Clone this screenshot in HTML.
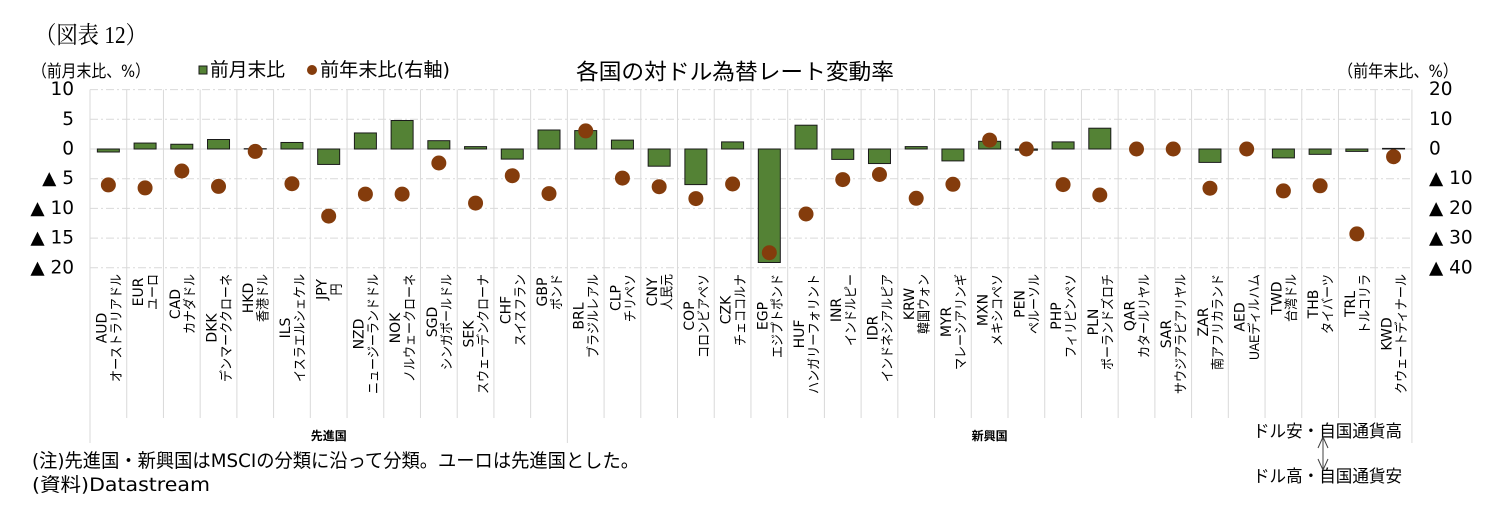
<!DOCTYPE html>
<html lang="ja">
<head>
<meta charset="utf-8">
<style>
  html,body{margin:0;padding:0;background:#fff;}
  svg{display:block;}
  text{fill:#000;}
  .tk{font-family:"DejaVu Sans","Liberation Sans",sans-serif;font-size:18.5px;dominant-baseline:central;}
  .c{font-family:"DejaVu Sans","Liberation Sans",sans-serif;font-size:14px;text-anchor:middle;dominant-baseline:central;}
  .j{font-family:"Liberation Sans","Noto Sans CJK JP",sans-serif;font-size:13.5px;text-anchor:middle;dominant-baseline:central;}
  .h{font-family:"DejaVu Sans","Noto Sans CJK JP",sans-serif;dominant-baseline:central;}
  .g{stroke:#D9D9D9;stroke-width:1;}
  .gd{stroke:#D9D9D9;stroke-width:1;stroke-dasharray:8 3 2 3;}
  .b{fill:#548235;stroke:#1a1a1a;stroke-width:1;}
  .d{fill:#843C0C;}
</style>
</head>
<body>
<svg width="1503" height="527" viewBox="0 0 1503 527" xmlns="http://www.w3.org/2000/svg">
<rect x="0" y="0" width="1503" height="527" fill="#fff"/>

<!-- header -->
<text x="35" y="36" style="font-family:'Liberation Serif','Noto Serif CJK SC',serif;font-size:24px;dominant-baseline:central;" textLength="112" lengthAdjust="spacingAndGlyphs">（図表 12）</text>
<text class="h" x="32" y="72" style="font-size:17px" textLength="118" lengthAdjust="spacingAndGlyphs">（前月末比、%）</text>
<rect x="199" y="66" width="8" height="8" class="b"/>
<text class="h" x="210" y="70" style="font-size:19px" textLength="75" lengthAdjust="spacingAndGlyphs">前月末比</text>
<circle cx="312" cy="70" r="5" class="d"/>
<text class="h" x="320" y="70" style="font-size:19px" textLength="130" lengthAdjust="spacingAndGlyphs">前年末比(右軸)</text>
<text class="h" x="576" y="73" style="font-size:22px" textLength="318" lengthAdjust="spacingAndGlyphs">各国の対ドル為替レート変動率</text>
<text class="h" x="1338" y="72" style="font-size:17px" textLength="120" lengthAdjust="spacingAndGlyphs">（前年末比、%）</text>

<!-- vertical grid -->
<g class="g">
<line x1="90" y1="89.6" x2="90" y2="443"/>
<line x1="126.72" y1="89.6" x2="126.72" y2="418"/>
<line x1="163.44" y1="89.6" x2="163.44" y2="418"/>
<line x1="200.16" y1="89.6" x2="200.16" y2="418"/>
<line x1="236.88" y1="89.6" x2="236.88" y2="418"/>
<line x1="273.6" y1="89.6" x2="273.6" y2="418"/>
<line x1="310.32" y1="89.6" x2="310.32" y2="418"/>
<line x1="347.04" y1="89.6" x2="347.04" y2="418"/>
<line x1="383.76" y1="89.6" x2="383.76" y2="418"/>
<line x1="420.48" y1="89.6" x2="420.48" y2="418"/>
<line x1="457.2" y1="89.6" x2="457.2" y2="418"/>
<line x1="493.92" y1="89.6" x2="493.92" y2="418"/>
<line x1="530.64" y1="89.6" x2="530.64" y2="418"/>
<line x1="567.36" y1="89.6" x2="567.36" y2="443"/>
<line x1="604.08" y1="89.6" x2="604.08" y2="418"/>
<line x1="640.8" y1="89.6" x2="640.8" y2="418"/>
<line x1="677.52" y1="89.6" x2="677.52" y2="418"/>
<line x1="714.24" y1="89.6" x2="714.24" y2="418"/>
<line x1="750.96" y1="89.6" x2="750.96" y2="418"/>
<line x1="787.68" y1="89.6" x2="787.68" y2="418"/>
<line x1="824.4" y1="89.6" x2="824.4" y2="418"/>
<line x1="861.12" y1="89.6" x2="861.12" y2="418"/>
<line x1="897.84" y1="89.6" x2="897.84" y2="418"/>
<line x1="934.56" y1="89.6" x2="934.56" y2="418"/>
<line x1="971.28" y1="89.6" x2="971.28" y2="418"/>
<line x1="1008" y1="89.6" x2="1008" y2="418"/>
<line x1="1044.72" y1="89.6" x2="1044.72" y2="418"/>
<line x1="1081.44" y1="89.6" x2="1081.44" y2="418"/>
<line x1="1118.16" y1="89.6" x2="1118.16" y2="418"/>
<line x1="1154.88" y1="89.6" x2="1154.88" y2="418"/>
<line x1="1191.6" y1="89.6" x2="1191.6" y2="418"/>
<line x1="1228.32" y1="89.6" x2="1228.32" y2="418"/>
<line x1="1265.04" y1="89.6" x2="1265.04" y2="418"/>
<line x1="1301.76" y1="89.6" x2="1301.76" y2="418"/>
<line x1="1338.48" y1="89.6" x2="1338.48" y2="418"/>
<line x1="1375.2" y1="89.6" x2="1375.2" y2="418"/>
<line x1="1411.92" y1="89.6" x2="1411.92" y2="443"/>
</g>

<!-- horizontal grid -->
<g class="gd">
<line x1="90" y1="89.6" x2="1412" y2="89.6"/>
<line x1="90" y1="119.3" x2="1412" y2="119.3"/>
<line x1="90" y1="178.7" x2="1412" y2="178.7"/>
<line x1="90" y1="208.4" x2="1412" y2="208.4"/>
<line x1="90" y1="238.1" x2="1412" y2="238.1"/>
<line x1="90" y1="267.8" x2="1412" y2="267.8"/>
</g>
<line x1="90" y1="149" x2="1412" y2="149" class="g"/>

<!-- left ticks -->
<g class="tk" style="text-anchor:end">
<text x="74" y="89.6">10</text>
<text x="74" y="119.3">5</text>
<text x="74" y="149">0</text>
<text x="74" y="178.7">▲ 5</text>
<text x="74" y="208.4">▲ 10</text>
<text x="74" y="238.1">▲ 15</text>
<text x="74" y="267.8">▲ 20</text>
</g>
<!-- right ticks -->
<g class="tk" style="text-anchor:start">
<text x="1429" y="89.6">20</text>
<text x="1429" y="119.3">10</text>
<text x="1429" y="149">0</text>
<text x="1429" y="178.7">▲ 10</text>
<text x="1429" y="208.4">▲ 20</text>
<text x="1429" y="238.1">▲ 30</text>
<text x="1429" y="267.8">▲ 40</text>
</g>

<!-- bars -->
<g class="b">
<rect x="97.36" y="149" width="22" height="3"/>
<rect x="134.08" y="143.06" width="22" height="5.94"/>
<rect x="170.8" y="144.25" width="22" height="4.75"/>
<rect x="207.52" y="139.5" width="22" height="9.5"/>
<rect x="244.24" y="148.7" width="22" height="0.3"/>
<rect x="280.96" y="142.47" width="22" height="6.53"/>
<rect x="317.68" y="149" width="22" height="15.44"/>
<rect x="354.4" y="132.96" width="22" height="16.04"/>
<rect x="391.12" y="120.49" width="22" height="28.51"/>
<rect x="427.84" y="140.68" width="22" height="8.32"/>
<rect x="464.56" y="146.62" width="22" height="2.38"/>
<rect x="501.28" y="149" width="22" height="10.1"/>
<rect x="538" y="130" width="22" height="19"/>
<rect x="574.72" y="130.6" width="22" height="18.4"/>
<rect x="611.44" y="140.1" width="22" height="8.9"/>
<rect x="648.16" y="149" width="22" height="17.2"/>
<rect x="684.88" y="149" width="22" height="35.6"/>
<rect x="721.6" y="141.9" width="22" height="7.1"/>
<rect x="758.32" y="149" width="22" height="113.5"/>
<rect x="795.04" y="125.2" width="22" height="23.8"/>
<rect x="831.76" y="149" width="22" height="10.4"/>
<rect x="868.48" y="149" width="22" height="14.55"/>
<rect x="905.2" y="146.6" width="22" height="2.4"/>
<rect x="941.92" y="149" width="22" height="11.9"/>
<rect x="978.64" y="141.3" width="22" height="7.7"/>
<rect x="1015.36" y="149" width="22" height="1.2"/>
<rect x="1052.08" y="141.9" width="22" height="7.1"/>
<rect x="1088.8" y="128.2" width="22" height="20.8"/>
<rect x="1198.96" y="149" width="22" height="13.4"/>
<rect x="1272.4" y="149" width="22" height="8.9"/>
<rect x="1309.12" y="149" width="22" height="5.35"/>
<rect x="1345.84" y="149" width="22" height="2.4"/>
<rect x="1382.56" y="148.4" width="22" height="0.6"/>
</g>

<!-- dots -->
<g class="d">
<circle cx="108.36" cy="184.9" r="7.5"/>
<circle cx="145.08" cy="187.9" r="7.5"/>
<circle cx="181.8" cy="171" r="7.5"/>
<circle cx="218.52" cy="186.4" r="7.5"/>
<circle cx="255.24" cy="151.4" r="7.5"/>
<circle cx="291.96" cy="183.7" r="7.5"/>
<circle cx="328.68" cy="216.1" r="7.5"/>
<circle cx="365.4" cy="194.1" r="7.5"/>
<circle cx="402.12" cy="194.1" r="7.5"/>
<circle cx="438.84" cy="163" r="7.5"/>
<circle cx="475.56" cy="203.1" r="7.5"/>
<circle cx="512.28" cy="175.7" r="7.5"/>
<circle cx="549" cy="193.6" r="7.5"/>
<circle cx="585.72" cy="130.9" r="7.5"/>
<circle cx="622.44" cy="178.1" r="7.5"/>
<circle cx="659.16" cy="186.7" r="7.5"/>
<circle cx="695.88" cy="198.6" r="7.5"/>
<circle cx="732.6" cy="184" r="7.5"/>
<circle cx="769.32" cy="252.7" r="7.5"/>
<circle cx="806.04" cy="214" r="7.5"/>
<circle cx="842.76" cy="179.6" r="7.5"/>
<circle cx="879.48" cy="174.5" r="7.5"/>
<circle cx="916.2" cy="198.3" r="7.5"/>
<circle cx="952.92" cy="184.3" r="7.5"/>
<circle cx="989.64" cy="140.1" r="7.5"/>
<circle cx="1026.36" cy="149" r="7.5"/>
<circle cx="1063.08" cy="184.6" r="7.5"/>
<circle cx="1099.8" cy="195" r="7.5"/>
<circle cx="1136.52" cy="149" r="7.5"/>
<circle cx="1173.24" cy="149" r="7.5"/>
<circle cx="1209.96" cy="188.2" r="7.5"/>
<circle cx="1246.68" cy="149" r="7.5"/>
<circle cx="1283.4" cy="190.9" r="7.5"/>
<circle cx="1320.12" cy="185.8" r="7.5"/>
<circle cx="1356.84" cy="233.9" r="7.5"/>
<circle cx="1393.56" cy="156.7" r="7.5"/>
</g>

<!-- category labels -->
<g transform="translate(108.36,274) rotate(-90)"><text class="c" x="-54" y="-6">AUD</text><text class="j" x="-54" y="8" textLength="108" lengthAdjust="spacingAndGlyphs">オーストラリアドル</text></g>
<g transform="translate(145.08,274) rotate(-90)"><text class="c" x="-18" y="-6">EUR</text><text class="j" x="-18" y="8" textLength="36" lengthAdjust="spacingAndGlyphs">ユーロ</text></g>
<g transform="translate(181.8,274) rotate(-90)"><text class="c" x="-30" y="-6">CAD</text><text class="j" x="-30" y="8" textLength="60" lengthAdjust="spacingAndGlyphs">カナダドル</text></g>
<g transform="translate(218.52,274) rotate(-90)"><text class="c" x="-54" y="-6">DKK</text><text class="j" x="-54" y="8" textLength="108" lengthAdjust="spacingAndGlyphs">デンマーククローネ</text></g>
<g transform="translate(255.24,274) rotate(-90)"><text class="c" x="-24" y="-6">HKD</text><text class="j" x="-24" y="8" textLength="48" lengthAdjust="spacingAndGlyphs">香港ドル</text></g>
<g transform="translate(291.96,274) rotate(-90)"><text class="c" x="-54" y="-6">ILS</text><text class="j" x="-54" y="8" textLength="108" lengthAdjust="spacingAndGlyphs">イスラエルシェケル</text></g>
<g transform="translate(328.68,274) rotate(-90)"><text class="c" x="-15.5" y="-6">JPY</text><text class="j" x="-15.5" y="8" textLength="12" lengthAdjust="spacingAndGlyphs">円</text></g>
<g transform="translate(365.4,274) rotate(-90)"><text class="c" x="-60" y="-6">NZD</text><text class="j" x="-60" y="8" textLength="120" lengthAdjust="spacingAndGlyphs">ニュージーランドドル</text></g>
<g transform="translate(402.12,274) rotate(-90)"><text class="c" x="-54" y="-6">NOK</text><text class="j" x="-54" y="8" textLength="108" lengthAdjust="spacingAndGlyphs">ノルウェークローネ</text></g>
<g transform="translate(438.84,274) rotate(-90)"><text class="c" x="-48" y="-6">SGD</text><text class="j" x="-48" y="8" textLength="96" lengthAdjust="spacingAndGlyphs">シンガポールドル</text></g>
<g transform="translate(475.56,274) rotate(-90)"><text class="c" x="-60" y="-6">SEK</text><text class="j" x="-60" y="8" textLength="120" lengthAdjust="spacingAndGlyphs">スウェーデンクローナ</text></g>
<g transform="translate(512.28,274) rotate(-90)"><text class="c" x="-36" y="-6">CHF</text><text class="j" x="-36" y="8" textLength="72" lengthAdjust="spacingAndGlyphs">スイスフラン</text></g>
<g transform="translate(549,274) rotate(-90)"><text class="c" x="-18" y="-6">GBP</text><text class="j" x="-18" y="8" textLength="36" lengthAdjust="spacingAndGlyphs">ポンド</text></g>
<g transform="translate(585.72,274) rotate(-90)"><text class="c" x="-42" y="-6">BRL</text><text class="j" x="-42" y="8" textLength="84" lengthAdjust="spacingAndGlyphs">ブラジルレアル</text></g>
<g transform="translate(622.44,274) rotate(-90)"><text class="c" x="-24" y="-6">CLP</text><text class="j" x="-24" y="8" textLength="48" lengthAdjust="spacingAndGlyphs">チリペソ</text></g>
<g transform="translate(659.16,274) rotate(-90)"><text class="c" x="-18" y="-6">CNY</text><text class="j" x="-18" y="8" textLength="36" lengthAdjust="spacingAndGlyphs">人民元</text></g>
<g transform="translate(695.88,274) rotate(-90)"><text class="c" x="-42" y="-6">COP</text><text class="j" x="-42" y="8" textLength="84" lengthAdjust="spacingAndGlyphs">コロンビアペソ</text></g>
<g transform="translate(732.6,274) rotate(-90)"><text class="c" x="-36" y="-6">CZK</text><text class="j" x="-36" y="8" textLength="72" lengthAdjust="spacingAndGlyphs">チェココルナ</text></g>
<g transform="translate(769.32,274) rotate(-90)"><text class="c" x="-42" y="-6">EGP</text><text class="j" x="-42" y="8" textLength="84" lengthAdjust="spacingAndGlyphs">エジプトポンド</text></g>
<g transform="translate(806.04,274) rotate(-90)"><text class="c" x="-60" y="-6">HUF</text><text class="j" x="-60" y="8" textLength="120" lengthAdjust="spacingAndGlyphs">ハンガリーフォリント</text></g>
<g transform="translate(842.76,274) rotate(-90)"><text class="c" x="-36" y="-6">INR</text><text class="j" x="-36" y="8" textLength="72" lengthAdjust="spacingAndGlyphs">インドルピー</text></g>
<g transform="translate(879.48,274) rotate(-90)"><text class="c" x="-54" y="-6">IDR</text><text class="j" x="-54" y="8" textLength="108" lengthAdjust="spacingAndGlyphs">インドネシアルピア</text></g>
<g transform="translate(916.2,274) rotate(-90)"><text class="c" x="-30" y="-6">KRW</text><text class="j" x="-30" y="8" textLength="60" lengthAdjust="spacingAndGlyphs">韓国ウォン</text></g>
<g transform="translate(952.92,274) rotate(-90)"><text class="c" x="-48" y="-6">MYR</text><text class="j" x="-48" y="8" textLength="96" lengthAdjust="spacingAndGlyphs">マレーシアリンギ</text></g>
<g transform="translate(989.64,274) rotate(-90)"><text class="c" x="-36" y="-6">MXN</text><text class="j" x="-36" y="8" textLength="72" lengthAdjust="spacingAndGlyphs">メキシコペソ</text></g>
<g transform="translate(1026.36,274) rotate(-90)"><text class="c" x="-30" y="-6">PEN</text><text class="j" x="-30" y="8" textLength="60" lengthAdjust="spacingAndGlyphs">ペルーソル</text></g>
<g transform="translate(1063.08,274) rotate(-90)"><text class="c" x="-42" y="-6">PHP</text><text class="j" x="-42" y="8" textLength="84" lengthAdjust="spacingAndGlyphs">フィリピンペソ</text></g>
<g transform="translate(1099.8,274) rotate(-90)"><text class="c" x="-48" y="-6">PLN</text><text class="j" x="-48" y="8" textLength="96" lengthAdjust="spacingAndGlyphs">ポーランドズロチ</text></g>
<g transform="translate(1136.52,274) rotate(-90)"><text class="c" x="-42" y="-6">QAR</text><text class="j" x="-42" y="8" textLength="84" lengthAdjust="spacingAndGlyphs">カタールリヤル</text></g>
<g transform="translate(1173.24,274) rotate(-90)"><text class="c" x="-60" y="-6">SAR</text><text class="j" x="-60" y="8" textLength="120" lengthAdjust="spacingAndGlyphs">サウジアラビアリヤル</text></g>
<g transform="translate(1209.96,274) rotate(-90)"><text class="c" x="-48" y="-6">ZAR</text><text class="j" x="-48" y="8" textLength="96" lengthAdjust="spacingAndGlyphs">南アフリカランド</text></g>
<g transform="translate(1246.68,274) rotate(-90)"><text class="c" x="-43" y="-6">AED</text><text class="j" x="-43" y="8" textLength="86" lengthAdjust="spacingAndGlyphs">UAEディルハム</text></g>
<g transform="translate(1283.4,274) rotate(-90)"><text class="c" x="-24" y="-6">TWD</text><text class="j" x="-24" y="8" textLength="48" lengthAdjust="spacingAndGlyphs">台湾ドル</text></g>
<g transform="translate(1320.12,274) rotate(-90)"><text class="c" x="-30" y="-6">THB</text><text class="j" x="-30" y="8" textLength="60" lengthAdjust="spacingAndGlyphs">タイバーツ</text></g>
<g transform="translate(1356.84,274) rotate(-90)"><text class="c" x="-30" y="-6">TRL</text><text class="j" x="-30" y="8" textLength="60" lengthAdjust="spacingAndGlyphs">トルコリラ</text></g>
<g transform="translate(1393.56,274) rotate(-90)"><text class="c" x="-60" y="-6">KWD</text><text class="j" x="-60" y="8" textLength="120" lengthAdjust="spacingAndGlyphs">クウェートディナール</text></g>

<!-- group labels -->
<text class="h" x="328.7" y="436" style="font-size:12px;font-weight:bold;text-anchor:middle">先進国</text>
<text class="h" x="989.6" y="436" style="font-size:12px;font-weight:bold;text-anchor:middle">新興国</text>

<!-- notes -->
<text class="h" x="32" y="461" style="font-size:19px" textLength="607" lengthAdjust="spacingAndGlyphs">(注)先進国・新興国はMSCIの分類に沿って分類。ユーロは先進国とした。</text>
<text class="h" x="32" y="485" style="font-size:19px" textLength="178" lengthAdjust="spacingAndGlyphs">(資料)Datastream</text>

<!-- direction annotation -->
<text class="h" x="1253" y="432" style="font-size:17px" textLength="149" lengthAdjust="spacingAndGlyphs">ドル安・自国通貨高</text>
<text class="h" x="1253" y="477" style="font-size:17px" textLength="149" lengthAdjust="spacingAndGlyphs">ドル高・自国通貨安</text>
<g stroke="#404040" stroke-width="1" fill="none">
<line x1="1323" y1="437" x2="1323" y2="470"/>
<polyline points="1318,448 1323,437 1328,448"/>
<polyline points="1318,459 1323,470 1328,459"/>
</g>
</svg>
</body>
</html>
